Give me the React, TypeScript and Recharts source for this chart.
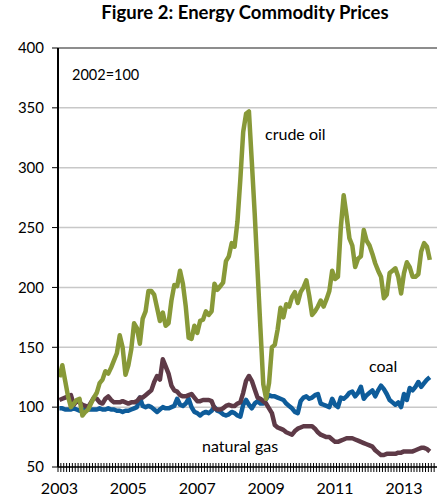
import { LineChart, Line, XAxis, YAxis, CartesianGrid, ReferenceLine } from "recharts";

// monthly index, 2002 = 100, Jan 2003 .. Oct 2013
const crude = [
  125, 135, 122, 109, 100, 103, 106, 107, 93, 96, 98, 103,
  108, 112, 120, 123, 130, 128, 133, 139, 145, 160, 150, 127,
  135, 148, 170, 166, 153, 174, 180, 197, 197, 194, 183, 172,
  179, 168, 170, 189, 202, 201, 214, 203, 184, 158, 157, 168,
  162, 172, 173, 180, 177, 180, 203, 198, 201, 204, 222, 226,
  237, 234, 255, 290, 330, 345, 347, 305, 262, 214, 166, 119,
  107, 120, 150, 152, 165, 183, 175, 186, 184, 192, 196, 187,
  196, 200, 206, 193, 177, 180, 184, 189, 184, 190, 197, 214,
  207, 209, 250, 277, 260, 241, 235, 217, 224, 226, 248, 239,
  235, 228, 220, 214, 209, 191, 194, 212, 214, 216, 209, 195,
  212, 221, 217, 209, 209, 211, 230, 237, 234, 223,
];

const coal = [
  99, 99, 98, 98, 98, 99, 98, 97, 98, 98, 98, 98,
  98, 98, 99, 98, 98, 99, 98, 98, 97, 97, 96, 97,
  97, 98, 99, 100, 108, 101, 100, 101, 100, 98, 96, 98,
  100, 99, 99, 100, 101, 107, 102, 101, 103, 107, 100, 96,
  95, 93, 95, 96, 95, 97, 100, 97, 96, 94, 93, 94,
  96, 95, 93, 92, 102, 106, 102, 99, 103, 105, 103, 103,
  107, 110, 109, 109, 108, 107, 106, 103, 101, 99, 96, 95,
  105, 108, 109, 107, 108, 110, 111, 103, 102, 101, 100, 107,
  102, 100, 108, 107, 109, 112, 113, 109, 112, 117, 107, 110,
  112, 114, 109, 114, 118, 115, 111, 106, 104, 102, 104, 100,
  111, 106, 116, 114, 117, 121, 117, 120, 123, 125,
];

const gas = [
  106, 107, 108, 109, 110, 102, 105, 104, 102, 101, 100, 104,
  108, 107, 104, 103, 107, 109, 106, 104, 104, 104, 105, 104,
  103, 104, 104, 105, 108, 108, 110, 112, 114, 121, 126, 123,
  140, 134, 128, 118, 114, 113, 110, 109, 109, 110, 111, 108,
  105, 105, 106, 106, 106, 105, 99, 98, 98, 99, 101, 102,
  101, 101, 103, 104, 112, 122, 126, 122, 115, 108, 107, 105,
  103, 99, 95, 85, 83, 82, 81, 79, 78, 77, 80, 82,
  83, 84, 84, 84, 84, 82, 79, 77, 76, 75, 75, 73,
  71, 71, 72, 73, 74, 74, 74, 73, 72, 71, 70, 69,
  68, 67, 64, 62, 60, 60, 61, 61, 61, 61, 62, 62,
  63, 63, 63, 63, 64, 65, 66, 66, 65, 63,
];

const years = [2003, 2004, 2005, 2006, 2007, 2008, 2009, 2010, 2011, 2012, 2013];
const monthNums = ["01", "02", "03", "04", "05", "06", "07", "08", "09", "10", "11", "12"];
const months = years.flatMap((y) => monthNums.map((m) => `${y}-${m}`));
const yTicks = [50, 100, 150, 200, 250, 300, 350, 400];

const data = months.map((m, i) => ({
  m,
  crude: crude[i] ?? null,
  coal: coal[i] ?? null,
  gas: gas[i] ?? null,
}));

const FONT = "Lato, 'Open Sans', sans-serif";

const XTick = (props: any) => {
  const { x, y, payload } = props;
  const axisY = y - 10;
  const [yr, mo] = String(payload.value).split("-");
  const show = mo === "01" && Number(yr) % 2 === 1;
  const half = 379 / months.length / 2;
  return (
    <g>
      <line x1={x - half} x2={x - half} y1={axisY - 4} y2={axisY + 5} stroke="#000" strokeWidth={1} />
      {show && (
        <text x={x} y={axisY + 27} textAnchor="middle" fontSize={16} fill="#000" fontFamily={FONT}>
          {yr}
        </text>
      )}
    </g>
  );
};

export default function App() {
  return (
    <div style={{ position: "absolute", left: 0, top: 0, width: 445, height: 497, background: "#fff" }}>
      <LineChart
        width={445}
        height={497}
        data={data}
        margin={{ top: 48, right: 8, left: 0, bottom: 0 }}
        style={{ fontFamily: FONT }}
      >
        <CartesianGrid vertical={false} stroke="#c8c8c8" strokeWidth={1.5} />
        <XAxis
          dataKey="m"
          scale="band"
          interval={0}
          height={30}
          tickSize={6}
          tickMargin={4}
          tickLine={false}
          axisLine={{ stroke: "#000", strokeWidth: 1.5 }}
          tick={<XTick />}
        />
        <YAxis
          domain={[50, 400]}
          ticks={yTicks}
          width={58}
          tickSize={6}
          tickMargin={8}
          tick={{ fill: "#000", fontSize: 15, fontFamily: FONT }}
          tickLine={{ stroke: "#000" }}
          axisLine={{ stroke: "#000", strokeWidth: 2 }}
        />
        <YAxis
          yAxisId="right"
          orientation="right"
          domain={[50, 400]}
          width={0}
          tick={false}
          tickLine={false}
          axisLine={{ stroke: "#444", strokeWidth: 1 }}
        />
        <ReferenceLine y={400} stroke="#444" strokeWidth={1} />
        <Line dataKey="coal" stroke="#0E5C9A" strokeWidth={4.5} dot={false} isAnimationActive={false} strokeLinejoin="round" />
        <Line dataKey="gas" stroke="#5E3A47" strokeWidth={4.5} dot={false} isAnimationActive={false} strokeLinejoin="round" />
        <Line dataKey="crude" stroke="#889938" strokeWidth={4.5} dot={false} isAnimationActive={false} strokeLinejoin="round" />
      </LineChart>
      <svg
        width={445}
        height={497}
        style={{ position: "absolute", left: 0, top: 0, pointerEvents: "none", fontFamily: FONT }}
      >
        <text x={245} y={19} textAnchor="middle" fontSize={18.5} fontWeight={700} fill="#000">
          Figure 2: Energy Commodity Prices
        </text>
        <text x={72} y={80} fontSize={14.5} fill="#000">2002=100</text>
        <text x={265} y={140} fontSize={16} fill="#000">crude oil</text>
        <text x={369} y={372} fontSize={16} fill="#000">coal</text>
        <text x={202} y={452} fontSize={16} fill="#000">natural gas</text>
      </svg>
    </div>
  );
}
